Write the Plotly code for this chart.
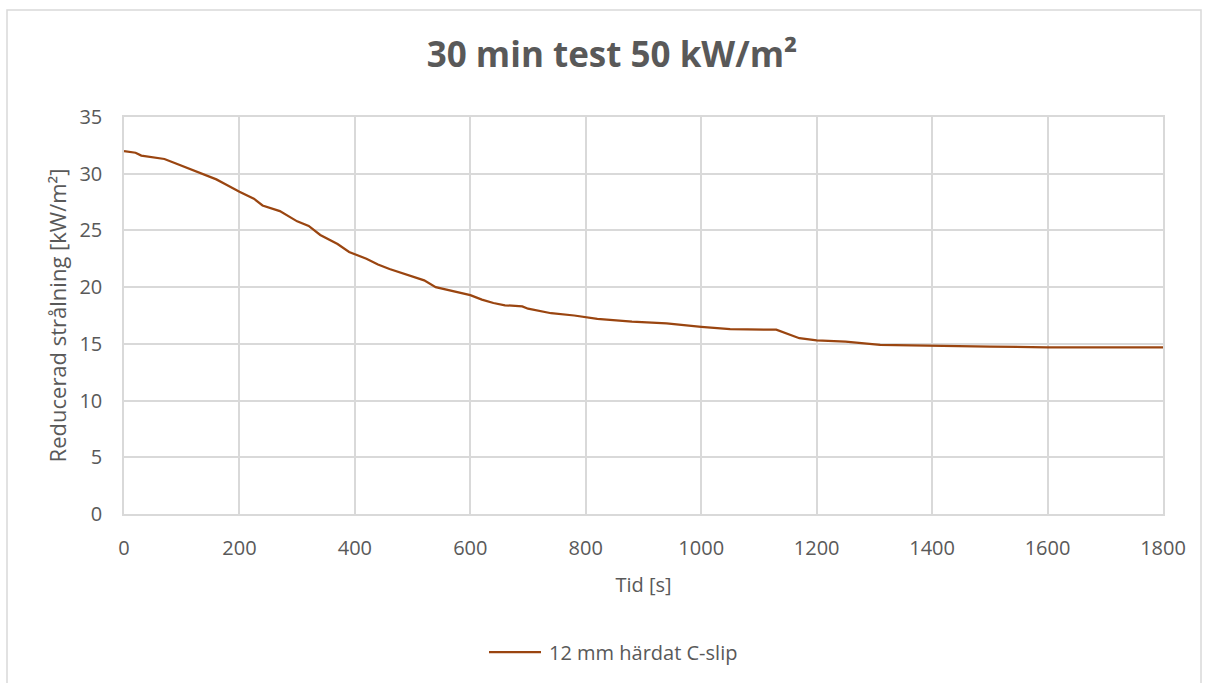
import plotly.graph_objects as go

# Data
tid_s = [0, 20, 30, 60, 70, 90, 120, 160, 175, 200, 225, 240, 270, 300, 320, 340,
         370, 390, 420, 440, 460, 520, 540, 560, 600, 620, 640, 660, 690, 700, 740,
         780, 820, 880, 940, 1000, 1050, 1130, 1150, 1170, 1200, 1250, 1310, 1400,
         1500, 1600, 1700, 1800]
stralning = [32.0, 31.85, 31.6, 31.4, 31.3, 30.9, 30.3, 29.5, 29.1, 28.4, 27.8, 27.2,
             26.7, 25.8, 25.4, 24.6, 23.8, 23.1, 22.5, 22.0, 21.6, 20.6, 20.0, 19.75,
             19.3, 18.9, 18.6, 18.4, 18.3, 18.1, 17.7, 17.5, 17.2, 16.95, 16.8, 16.5,
             16.3, 16.25, 15.9, 15.5, 15.3, 15.2, 14.9, 14.8, 14.75, 14.7, 14.7, 14.7]
series_name = "12 mm härdat C-slip"
x_ticks = [0, 200, 400, 600, 800, 1000, 1200, 1400, 1600, 1800]
y_ticks = [0, 5, 10, 15, 20, 25, 30, 35]

FONT = "Open Sans, Liberation Sans, sans-serif"
TXT = "#595959"
GRID = "#d9d9d9"
LINE_COLOR = "#9A4510"

fig = go.Figure()
fig.add_trace(go.Scatter(
    x=tid_s, y=stralning, mode="lines", name=series_name,
    line=dict(color=LINE_COLOR, width=2.25), showlegend=False,
))

W, H = 1205, 683
L, R, T, B = 124, 42, 117, 169
pw, ph = W - L - R, H - T - B

def px_x(p):
    return (p - L) / pw

def px_y(p):
    return (H - B - p) / ph

fig.update_layout(
    width=W, height=H,
    margin=dict(l=L, r=R, t=T, b=B),
    paper_bgcolor="white", plot_bgcolor="white",
    font=dict(family=FONT, color=TXT, size=20),
    title=dict(text="<b>30 min test 50 kW/m²</b>", x=px_x(612), xanchor="center",
               xref="paper", y=1 - 55 / H, yanchor="middle",
               font=dict(size=35, color=TXT, family=FONT)),
    showlegend=False,
    xaxis=dict(range=[0, 1800], tickvals=x_ticks, showgrid=True, gridcolor=GRID,
               gridwidth=1.5, zeroline=False, showline=True, linecolor=GRID,
               linewidth=1.5, mirror=True, ticks="", ticklabelstandoff=15,
               tickfont=dict(size=20, color=TXT),
               title=dict(text="Tid [s]", font=dict(size=20, color=TXT), standoff=18)),
    yaxis=dict(range=[0, 35], tickvals=y_ticks, showgrid=True, gridcolor=GRID,
               gridwidth=1.5, zeroline=False, showline=True, linecolor=GRID,
               linewidth=1.5, mirror=True, ticks="", ticklabelstandoff=16,
               tickfont=dict(size=20, color=TXT),
               title=dict(text="Reducerad strålning [kW/m²]",
                          font=dict(size=22, color=TXT), standoff=7)),
    shapes=[
        dict(type="rect", xref="paper", yref="paper",
             x0=px_x(7), x1=px_x(1201), y0=px_y(700), y1=px_y(10),
             line=dict(color=GRID, width=1.5), fillcolor="rgba(0,0,0,0)",
             layer="below"),
        # legend sample line
        dict(type="line", xref="paper", yref="paper",
             x0=px_x(489), x1=px_x(541), y0=px_y(652), y1=px_y(652),
             line=dict(color=LINE_COLOR, width=2.25)),
    ],
    annotations=[
        dict(text=series_name, xref="paper", yref="paper",
             x=px_x(547), y=px_y(652), xanchor="left", yanchor="middle",
             showarrow=False, font=dict(size=20, color=TXT, family=FONT)),
    ],
)

fig.write_html("out.html")
